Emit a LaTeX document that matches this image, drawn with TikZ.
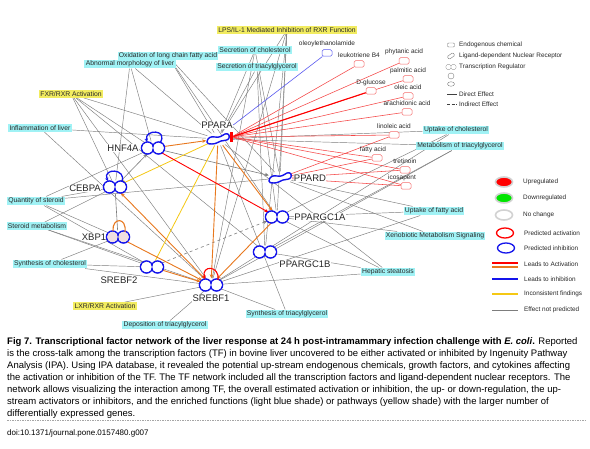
\documentclass[tikz,border=0pt]{standalone}
\usepackage{fontspec}
\setmainfont{Liberation Sans}
\usetikzlibrary{arrows.meta,backgrounds,shapes.geometric}
\definecolor{tfblue}{RGB}{20,20,235}
\definecolor{cyanbox}{RGB}{160,242,245}
\definecolor{yelbox}{RGB}{242,236,96}
\definecolor{txt}{RGB}{40,40,40}
\definecolor{edgegray}{RGB}{125,125,125}
\definecolor{chemred}{RGB}{245,110,110}
\definecolor{lred}{RGB}{245,70,70}
\definecolor{orng}{RGB}{232,120,30}
\definecolor{yel}{RGB}{245,200,20}
\definecolor{pinkfill}{RGB}{240,222,224}
\definecolor{chemblue}{RGB}{90,90,240}
\tikzset{
 fn/.style={fill=cyanbox, inner xsep=1.3pt, inner ysep=1.2pt, font=\fontsize{6.8}{7}\selectfont, text=txt},
 pw/.style={fn, fill=yelbox},
 tfn/.style={ellipse, minimum width=24pt, minimum height=13pt, inner sep=0pt},
 tfl/.style={font=\fontsize{9.5}{10}\selectfont, text=black!85, inner sep=0.3pt, fill=white},
 chem/.style={draw=chemred, fill=white, rounded corners=1.5pt, minimum width=10pt, minimum height=6.5pt, inner sep=0pt, line width=0.5pt},
 chl/.style={font=\fontsize{6.5}{7}\selectfont, text=txt, inner sep=0pt},
 gr/.style={draw=edgegray, line width=0.45pt},
 redl/.style={draw=lred, line width=0.55pt},
 arr/.style={-{Stealth[length=4pt,width=3.5pt]}},
 act/.style={draw=orng, line width=0.9pt, arr},
 yl/.style={draw=yel, line width=0.8pt},
 lgt/.style={font=\fontsize{6.4}{7}\selectfont, text=txt, anchor=west, inner sep=0pt},
 lgl/.style={line width=1.3pt},
 capl/.style={font=\fontsize{9.5}{12}\selectfont, anchor=base west, inner sep=0pt},
 lgell/.style={ellipse, minimum width=17pt, minimum height=10pt, inner sep=0pt},
 pics/peanut/.style={code={
   \draw[tfblue, line width=1.5pt] (-5.5,0) circle (6) (5.5,0) circle (6);
   \fill[#1] (-5.5,0) circle (5.25) (5.5,0) circle (5.25);
 }},
 pics/wavy/.style={code={
   \draw[tfblue, line width=1.4pt, fill=white] (-11,3) .. controls (-11,-1) and (-7,-3) .. (-3,-2) .. controls (1,-1) and (4,-3) .. (7,-5) .. controls (10,-6) and (12,-4) .. (11,-1) .. controls (10,2) and (6,1) .. (3,2) .. controls (0,3) and (-2,5) .. (-6,5) .. controls (-9,5) and (-11,5) .. (-11,3) -- cycle;
 }},
}
\begin{document}
\begin{tikzpicture}[x=1pt,y=-1pt]
\useasboundingbox (0,0) rectangle (590,449);

% ---------- transcription factors ----------
\node[tfn] (ppara) at (218,139) {};
\node[tfn] (hnf) at (153,148) {};
\node[tfn] (cebpa) at (115,187) {};
\node[tfn] (xbp) at (118,237) {};
\node[tfn] (srebf2) at (152,267) {};
\node[tfn] (srebf1) at (211,285) {};
\node[tfn] (ppard) at (280,178) {};
\node[tfn] (pgc1a) at (277,217) {};
\node[tfn] (pgc1b) at (265,252) {};
\node[fill=red, minimum width=3.5pt, minimum height=9.5pt, inner sep=0pt] (prect) at (231.5,137) {};

% ---------- TF labels ----------
\node[tfl] (lppara) at (217,125) {PPARA};
\node[tfl] (lhnf) at (123,148) {HNF4A};
\node[tfl] (lcebpa) at (85,188) {CEBPA};
\node[tfl] (lxbp) at (94,237) {XBP1};
\node[tfl] (lsrebf2) at (119,280) {SREBF2};
\node[tfl] (lsrebf1) at (211,298) {SREBF1};
\node[tfl] (lppard) at (310,178) {PPARD};
\node[tfl] (lpgc1a) at (320,217) {PPARGC1A};
\node[tfl] (lpgc1b) at (305,264) {PPARGC1B};

% ---------- functions and pathways ----------
\node[pw] (lps) at (287,30) {LPS/IL-1 Mediated Inhibition of RXR Function};
\node[fn] (secc) at (255,50) {Secretion of cholesterol};
\node[fn] (sect) at (257,67) {Secretion of triacylglycerol};
\node[fn] (oxi) at (168,56) {Oxidation of long chain fatty acid};
\node[fn] (abn) at (130,64) {Abnormal morphology of liver};
\node[pw] (fxr) at (71,94) {FXR/RXR Activation};
\node[fn] (infl) at (40,128) {Inflammation of liver};
\node[fn] (qst) at (36,201) {Quantity of steroid};
\node[fn] (stm) at (37,226) {Steroid metabolism};
\node[fn] (syc) at (50,264) {Synthesis of cholesterol};
\node[pw] (lxr) at (105,306) {LXR/RXR Activation};
\node[fn] (dep) at (165,325) {Deposition of triacylglycerol};
\node[fn] (syt) at (287,314) {Synthesis of triacylglycerol};
\node[fn] (hep) at (388,272) {Hepatic steatosis};
\node[fn] (xen) at (435,236) {Xenobiotic Metabolism Signaling};
\node[fn] (upf) at (434,211) {Uptake of fatty acid};
\node[fn] (upc) at (456,130) {Uptake of cholesterol};
\node[fn] (met) at (460,146) {Metabolism of triacylglycerol};

% ---------- chemicals ----------
\node[chem, draw=chemblue] (oleo) at (327,53) {};
\node[chem] (leuk) at (359,64) {};
\node[chem] (phyt) at (404,61) {};
\node[chem] (palm) at (408,79) {};
\node[chem] (dglu) at (371,91) {};
\node[chem] (olei) at (408,96) {};
\node[chem] (arac) at (407,112) {};
\node[chem] (lino) at (394,135) {};
\node[chem] (fatt) at (377,158) {};
\node[chem] (tret) at (405,170) {};
\node[chem] (icos) at (406,186) {};
\node[chl] (loleo) at (327,44) {oleoylethanolamide};
\node[chl] (lleuk) at (359,55) {leukotriene B4};
\node[chl] (lphyt) at (404,52) {phytanic acid};
\node[chl] (lpalm) at (408,71) {palmitic acid};
\node[chl] (ldglu) at (371,83) {D-glucose};
\node[chl] (lolei) at (408,87) {oleic acid};
\node[chl] (larac) at (407,103) {arachidonic acid};
\node[chl] (llino) at (394,126) {linoleic acid};
\node[chl] (lfatt) at (373,150) {fatty acid};
\node[chl] (ltret) at (405,161) {tretinoin};
\node[chl] (licos) at (402,178) {icosapent};

% ---------- edges ----------
\begin{pgfonlayer}{background}
\fill[white] (0,0) rectangle (590,449);
\foreach \t in {ppara,ppard,pgc1a,pgc1b,srebf1} \draw[gr] (lps) -- (\t);
\foreach \t in {ppara,ppard,srebf1} \draw[gr] (secc) -- (\t);
\foreach \t in {ppara,pgc1a,pgc1b} \draw[gr] (sect) -- (\t);
\foreach \t in {ppara,ppard,pgc1a} \draw[gr] (oxi) -- (\t);
\foreach \t in {hnf,cebpa,ppara} \draw[gr] (abn) -- (\t);
\foreach \t in {ppara,hnf,cebpa,srebf1,pgc1b} \draw[gr] (fxr) -- (\t);
\foreach \t in {ppara,srebf1} \draw[gr] (infl) -- (\t);
\foreach \t in {cebpa,hnf,ppard,xbp,srebf2} \draw[gr] (qst) -- (\t);
\foreach \t in {cebpa,srebf2,srebf1} \draw[gr] (stm) -- (\t);
\foreach \t in {srebf2,srebf1,xbp} \draw[gr] (syc) -- (\t);
\draw[gr] (lxr) -- (srebf1);
\draw[gr] (dep) -- (srebf1);
\foreach \t in {srebf1,ppara} \draw[gr] (syt) -- (\t);
\foreach \t in {pgc1b,pgc1a,srebf1,ppara} \draw[gr] (hep) -- (\t);
\foreach \t in {pgc1a,ppard} \draw[gr] (xen) -- (\t);
\foreach \t in {pgc1a,ppard,srebf1} \draw[gr] (upf) -- (\t);
\foreach \t in {ppara,srebf1,pgc1a} \draw[gr] (upc) -- (\t);
\foreach \t in {ppara,pgc1b,srebf1} \draw[gr] (met) -- (\t);
\draw[gr, line width=0.6pt] (xbp) -- (cebpa);
\draw[gr, line width=0.6pt, arr] (cebpa) -- (hnf);
\draw[gr, line width=0.6pt, arr] (hnf) -- (ppard);
\draw[gr, line width=0.6pt, dashed, arr] (srebf2) -- (pgc1a);
% chemicals
\foreach \c in {leuk,phyt,palm,olei,arac,lino,fatt,tret,icos} \draw[redl] (prect) -- (\c);
\draw[draw=red, line width=1.1pt] (prect) -- (dglu);
\foreach \c in {fatt,lino,tret,icos} \draw[redl] (ppard) -- (\c);
\draw[draw=chemblue, line width=0.6pt] (oleo) -- (lppara.east);
% predicted effects
\draw[yl, -{Bar[width=5pt]}] (ppara) -- (cebpa);
\draw[yl] (ppara) -- (srebf2);
\draw[act] (hnf) -- (ppara);
\draw[act] (ppara) -- (srebf1);
\draw[act] (ppara) -- (pgc1a);
\draw[act, {Stealth[length=4pt,width=3.5pt]}-{Stealth[length=4pt,width=3.5pt]}] (srebf1) -- (cebpa);
\draw[act] (xbp) -- (srebf1);
\draw[act] (srebf2) -- (srebf1);
\draw[act] (pgc1a) -- (srebf1);
\draw[draw=red, line width=0.9pt, arr] (hnf) -- (pgc1a);
\end{pgfonlayer}

% ---------- shapes ----------
\pic at (hnf) {peanut=white};
\pic at (cebpa) {peanut=white};
\pic at (xbp) {peanut=pinkfill};
\pic at (srebf2) {peanut=white};
\pic at (srebf1) {peanut=white};
\pic at (pgc1a) {peanut=white};
\pic at (pgc1b) {peanut=white};
\pic at (ppara) {wavy};
\pic at (ppard) {wavy};
% self loops
\draw[tfblue, line width=1.3pt, -{Stealth[length=3.5pt,width=3.5pt]}] ([shift={(7,-5)}]hnf.center) .. controls ([shift={(16,-19)}]hnf.center) and ([shift={(-9,-19)}]hnf.center) .. ([shift={(-6,-6)}]hnf.center);
\draw[tfblue, line width=1.3pt, -{Stealth[length=3.5pt,width=3.5pt]}] ([shift={(7,-5)}]cebpa.center) .. controls ([shift={(12,-19)}]cebpa.center) and ([shift={(-13,-19)}]cebpa.center) .. ([shift={(-7,-6)}]cebpa.center);
\draw[orng, line width=1.1pt] ([shift={(-5,-6)}]xbp.center) .. controls ([shift={(-6,-20)}]xbp.center) and ([shift={(9,-20)}]xbp.center) .. ([shift={(7,-5)}]xbp.center);
\draw[red, line width=1.1pt, -{Stealth[length=3.5pt,width=3.5pt]}] ([shift={(7,-5)}]srebf1.center) .. controls ([shift={(9,-20)}]srebf1.center) and ([shift={(-10,-20)}]srebf1.center) .. ([shift={(-6,-6)}]srebf1.center);

% ---------- legend (top) ----------
\node[draw=gray, rounded corners=1pt, minimum width=7pt, minimum height=4pt, inner sep=0pt, line width=0.4pt] (ic1) at (451,45) {};
\node[lgt] (lt1) at (459,45) {Endogenous chemical};
\node[draw=gray, rounded corners=1pt, minimum width=7pt, minimum height=3.5pt, inner sep=0pt, line width=0.4pt, rotate=35] (ic2) at (451,56) {};
\node[lgt] (lt2) at (459,56) {Ligand-dependent Nuclear Receptor};
\draw[gray, line width=0.4pt] (448.5,67) circle (2.6) (453.5,67) circle (2.6);
\fill[white] (448.5,67) circle (2.3) (453.5,67) circle (2.3);
\node[lgt] (lt3) at (459,67) {Transcription Regulator};
\node[circle, draw=gray, minimum size=6pt, inner sep=0pt, line width=0.4pt] (ic4) at (451,76) {};
\node[ellipse, draw=gray, minimum width=7pt, minimum height=4.5pt, inner sep=0pt, line width=0.4pt] (ic5) at (451,84) {};
\coordinate (d1) at (447,94); \coordinate (d2) at (457,94);
\draw[black!75, line width=0.6pt] (d1) -- (d2);
\node[lgt] (lt6) at (459,94) {Direct Effect};
\coordinate (e1) at (447,104); \coordinate (e2) at (457,104);
\draw[black!75, line width=0.6pt, dash pattern=on 3pt off 1.5pt] (e1) -- (e2);
\node[lgt] (lt7) at (459,104) {Indirect Effect};

% ---------- legend (bottom) ----------
\node[lgell, fill=red, draw=gray!35, line width=1.6pt] (lg1) at (504,182) {};
\node[lgt] (lg1t) at (523,182) {Upregulated};
\node[lgell, fill=green!90!black, draw=gray!35, line width=1.6pt] (lg2) at (504,198) {};
\node[lgt] (lg2t) at (523,198) {Downregulated};
\node[lgell, fill=white, draw=gray!35, line width=1.6pt] (lg3) at (504,215) {};
\node[lgt] (lg3t) at (523,215) {No change};
\node[lgell, draw=red, line width=1.3pt] (lg4) at (505,233) {};
\node[lgt] (lg4t) at (524,233) {Predicted activation};
\node[lgell, draw=tfblue, line width=1.3pt] (lg5) at (506,248) {};
\node[lgt] (lg5t) at (524,248) {Predicted inhibition};
\coordinate (l1a) at (492,263); \coordinate (l1b) at (518,263);
\coordinate (l2a) at (492,267); \coordinate (l2b) at (518,267);
\draw[lgl, draw=red] (l1a) -- (l1b);
\draw[lgl, draw=orng] (l2a) -- (l2b);
\node[lgt] (lg6t) at (524,264) {Leads to Activation};
\coordinate (l3a) at (492,279); \coordinate (l3b) at (518,279);
\draw[lgl, draw=tfblue] (l3a) -- (l3b);
\node[lgt] (lg7t) at (524,279) {Leads to inhibition};
\coordinate (l4a) at (492,294); \coordinate (l4b) at (518,294);
\draw[lgl, draw=yel] (l4a) -- (l4b);
\node[lgt] (lg8t) at (524,294) {Inconsistent findings};
\coordinate (l5a) at (492,310); \coordinate (l5b) at (518,310);
\draw[draw=edgegray, line width=0.8pt] (l5a) -- (l5b);
\node[lgt] (lg9t) at (524,310) {Effect not predicted};

% ---------- caption ----------
\node[capl] (cap1) at (7,344.5) {\textbf{Fig 7. Transcriptional factor network of the liver response at 24 h post-intramammary infection challenge with \textit{E. coli}.} Reported};
\node[capl] (cap2) at (7,356.5) {is the cross-talk among the transcription factors (TF) in bovine liver uncovered to be either activated or inhibited by Ingenuity Pathway};
\node[capl] (cap3) at (7,368.5) {Analysis (IPA). Using IPA database, it revealed the potential up-stream endogenous chemicals, growth factors, and cytokines affecting};
\node[capl] (cap4) at (7,380.5) {the activation or inhibition of the TF. The TF network included all the transcription factors and ligand-dependent nuclear receptors. The};
\node[capl] (cap5) at (7,392.5) {network allows visualizing the interaction among TF, the overall estimated activation or inhibition, the up- or down-regulation, the up-};
\node[capl] (cap6) at (7,404.5) {stream activators or inhibitors, and the enriched functions (light blue shade) or pathways (yellow shade) with the larger number of};
\node[capl] (cap7) at (7,416.5) {differentially expressed genes.};
\coordinate (s1) at (7,420.5); \coordinate (s2) at (585,420.5);
\draw[gray!70, line width=0.8pt, dash pattern=on 1.5pt off 1pt] (s1) -- (s2);
\node[anchor=base west, inner sep=0pt, font=\fontsize{8}{9}\selectfont] (doi) at (7,435.5) {doi:10.1371/journal.pone.0157480.g007};
\end{tikzpicture}
\end{document}
